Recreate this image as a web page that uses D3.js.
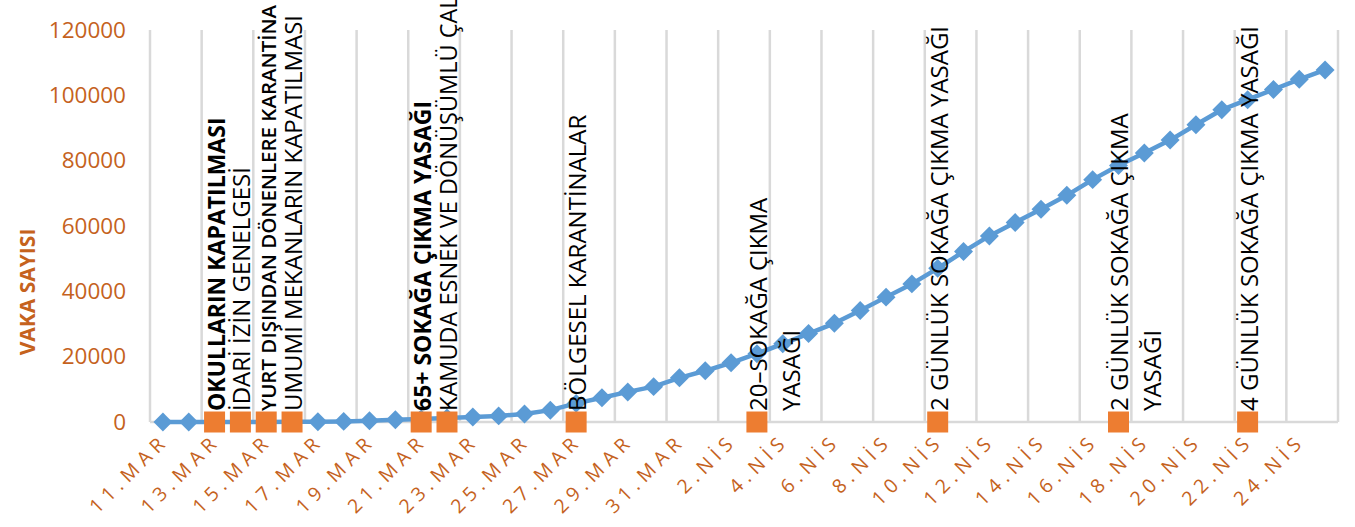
<!DOCTYPE html>
<html>
<head>
<meta charset="utf-8">
<script src="https://cdn.jsdelivr.net/npm/d3@7"></script>
<style>
    html, body { margin: 0; padding: 0; background: #fff; }
    svg { display: block; font-family: 'Open Sans', sans-serif; }
    .grid { stroke: #d9d9d9; stroke-width: 2.5; }
    .tick-label { fill: #c5621d; }
    .event-label { fill: #000; }
</style>
</head>
<body>
<svg id="chart" width="1355" height="527"></svg>
<script>
'use strict';

/******************************************************************
    data
 ******************************************************************/
var categories = [
    '11.MAR','12.MAR','13.MAR','14.MAR','15.MAR','16.MAR','17.MAR','18.MAR',
    '19.MAR','20.MAR','21.MAR','22.MAR','23.MAR','24.MAR','25.MAR','26.MAR',
    '27.MAR','28.MAR','29.MAR','30.MAR','31.MAR','1.NİS','2.NİS','3.NİS',
    '4.NİS','5.NİS','6.NİS','7.NİS','8.NİS','9.NİS','10.NİS','11.NİS',
    '12.NİS','13.NİS','14.NİS','15.NİS','16.NİS','17.NİS','18.NİS','19.NİS',
    '20.NİS','21.NİS','22.NİS','23.NİS','24.NİS','25.NİS'
];

var cases = [
    1, 1, 5, 6, 18, 47, 98, 191, 359, 670, 947, 1236, 1529, 1872, 2433, 3629,
    5698, 7402, 9217, 10827, 13531, 15679, 18135, 20921, 23934, 27069, 30217,
    34109, 38226, 42282, 47029, 52167, 56956, 61049, 65111, 69392, 74193,
    78546, 82329, 86306, 90980, 95591, 98674, 101790, 104912, 107773
];

var yTicks = [0, 20000, 40000, 60000, 80000, 100000, 120000];

var eventDates = [
    '13.MAR','14.MAR','15.MAR','16.MAR','21.MAR','22.MAR',
    '27.MAR','3.NİS','10.NİS','17.NİS','22.NİS'
];

var eventLabels = [
    ['OKULLARIN KAPATILMASI'],
    ['İDARİ İZİN GENELGESİ'],
    ['YURT DIŞINDAN DÖNENLERE KARANTİNA'],
    ['UMUMİ MEKANLARIN KAPATILMASI'],
    ['65+ SOKAĞA ÇIKMA YASAĞI'],
    ['KAMUDA ESNEK VE DÖNÜŞÜMLÜ ÇALIŞMA'],
    ['BÖLGESEL KARANTİNALAR'],
    ['20–SOKAĞA ÇIKMA', 'YASAĞI'],
    ['2 GÜNLÜK SOKAĞA ÇIKMA YASAĞI'],
    ['2 GÜNLÜK SOKAĞA ÇIKMA', 'YASAĞI'],
    ['4 GÜNLÜK SOKAĞA ÇIKMA YASAĞI']
];

var yTitle = 'VAKA SAYISI';

/******************************************************************
    scales
 ******************************************************************/
var svg = d3.select('#chart');

var x = d3.scaleBand()
    .domain(categories)
    .range([150, 1338])
    .padding(0);

var cx = function(d) { return x(d) + x.bandwidth() / 2; };

var y = d3.scaleLinear()
    .domain([0, 120000])
    .range([422, 30]);

/******************************************************************
    vertical gridlines, every second category boundary
 ******************************************************************/
var bounds = categories
    .filter(function(d, i) { return i % 2 === 0; })
    .map(function(d) { return x(d); })
    .concat([x.range()[1]]);

svg.append('g')
    .selectAll('line')
    .data(bounds)
    .enter().append('line')
        .attr('class', 'grid')
        .attr('x1', function(d) { return d; })
        .attr('x2', function(d) { return d; })
        .attr('y1', y(120000))
        .attr('y2', y(0));

svg.append('line')
    .attr('class', 'grid')
    .attr('x1', x.range()[0])
    .attr('x2', x.range()[1])
    .attr('y1', y(0))
    .attr('y2', y(0));

/******************************************************************
    axes
 ******************************************************************/
var yAxis = d3.axisLeft(y)
    .tickValues(yTicks)
    .tickSize(0)
    .tickPadding(24)
    .tickFormat(d3.format('d'));

svg.append('g')
    .attr('class', 'y axis')
    .attr('transform', 'translate(' + x.range()[0] + ',0)')
    .call(yAxis)
    .call(function(g) { g.select('.domain').remove(); })
    .selectAll('text')
        .attr('class', 'tick-label')
        .style('font-size', '22.5px')
        .style('font-family', "'Open Sans', sans-serif");

var xAxis = d3.axisBottom(x)
    .tickValues(categories.filter(function(d, i) { return i % 2 === 0; }))
    .tickSize(0);

svg.append('g')
    .attr('class', 'x axis')
    .attr('transform', 'translate(0,' + y(0) + ')')
    .call(xAxis)
    .call(function(g) { g.select('.domain').remove(); })
    .selectAll('text')
        .attr('class', 'tick-label')
        .attr('x', 0)
        .attr('y', 0)
        .attr('dy', 0)
        .attr('dx', 5.5)
        .attr('transform', 'translate(3,24) rotate(-45)')
        .style('text-anchor', 'end')
        .style('font-size', '19.5px')
        .style('letter-spacing', '5.5px')
        .style('font-family', "'Open Sans', sans-serif");

svg.append('text')
    .attr('transform', 'translate(35,292) rotate(-90)')
    .attr('text-anchor', 'middle')
    .style('font-size', '21px')
    .style('font-weight', 'bold')
    .style('fill', '#c5621d')
    .text(yTitle);

/******************************************************************
    case line
 ******************************************************************/
var line = d3.line()
    .x(function(d, i) { return cx(categories[i]); })
    .y(function(d) { return y(d); });

svg.append('path')
    .datum(cases)
    .attr('d', line)
    .attr('fill', 'none')
    .attr('stroke', '#5b9bd5')
    .attr('stroke-width', 4.5)
    .attr('stroke-linejoin', 'round');

svg.append('g')
    .selectAll('path')
    .data(cases)
    .enter().append('path')
        .attr('d', d3.symbol(d3.symbolSquare, 180))
        .attr('fill', '#5b9bd5')
        .attr('transform', function(d, i) {
            return 'translate(' + [cx(categories[i]), y(d)] + ') rotate(45)';
        });

/******************************************************************
    event markers and labels
 ******************************************************************/
svg.append('g')
    .selectAll('path')
    .data(eventDates)
    .enter().append('path')
        .attr('d', d3.symbol(d3.symbolSquare, 441))
        .attr('fill', '#ed7d31')
        .attr('transform', function(d) {
            return 'translate(' + [cx(d), y(0)] + ')';
        });

// label weight / size, by event index
function labelFont(k) {
    if (k === 0 || k === 4) return { size: '23px', weight: 'bold' };
    if (k === 2) return { size: '20.5px', weight: '600' };
    if (k === 5) return { size: '23.5px', weight: 'normal' };
    return { size: '24px', weight: 'normal' };
}

var labels = svg.append('g')
    .selectAll('g')
    .data(eventDates)
    .enter().append('g')
        .attr('transform', function(d) {
            return 'translate(' + [cx(d) + 10, 411] + ') rotate(-90)';
        });

labels.each(function(d, k) {
    var f = labelFont(k);

    d3.select(this).selectAll('text')
        .data(eventLabels[k])
        .enter().append('text')
            .attr('class', 'event-label')
            .attr('x', 0)
            .attr('y', function(t, j) { return j * 33; })
            .style('font-size', f.size)
            .style('font-weight', f.weight)
            .text(function(t) { return t; });
});
</script>
</body>
</html>
